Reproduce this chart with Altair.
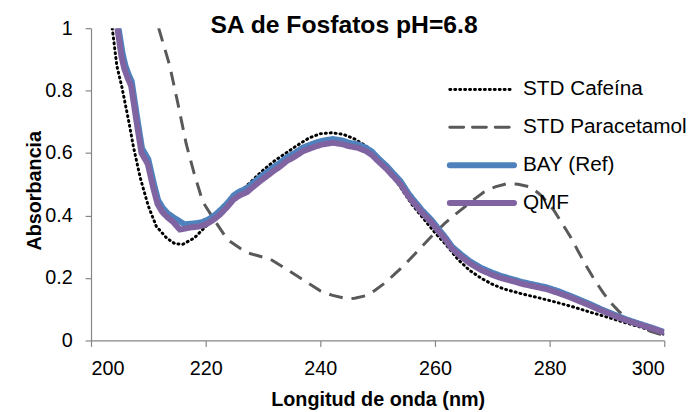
import altair as alt
import pandas as pd

TITLE = "SA de Fosfatos pH=6.8"
SERIES = ["STD Cafeína", "STD Paracetamol", "BAY (Ref)", "QMF"]
COLORS = ["#000000", "#595959", "#4F81BD", "#8064A2"]
DASHES = [[1, 4], [14, 9], [1, 0], [1, 0]]
WIDTHS = [3, 3, 6, 6]

caf_nm = [203.7, 204.5, 205.4, 206.6, 207.4, 208.6, 210, 211.4, 213.2, 214.6, 216, 218, 220,
          222, 224, 226, 228, 230, 232, 234, 236, 238, 240, 242, 244, 246, 248, 250, 252, 254,
          256, 258, 260, 262, 264, 266, 268, 270, 272, 275, 278, 281, 284, 287, 290, 293, 296,
          298, 300]
caf_abs = [1.0, 0.88, 0.81, 0.70, 0.62, 0.52, 0.43, 0.365, 0.328, 0.31, 0.308, 0.328, 0.365,
           0.40, 0.44, 0.475, 0.51, 0.545, 0.575, 0.60, 0.625, 0.648, 0.662, 0.665, 0.66, 0.645,
           0.622, 0.59, 0.545, 0.49, 0.435, 0.39, 0.345, 0.305, 0.26, 0.225, 0.2, 0.18, 0.165,
           0.15, 0.137, 0.123, 0.108, 0.091, 0.075, 0.058, 0.042, 0.03, 0.02]

par_nm = [211.8, 213.7, 215.2, 216.6, 218, 219.5, 221.5, 223.8, 226, 227.2, 229, 231.3, 233.5,
          235.9, 238, 240, 242, 244.5, 246, 247.9, 249.5, 251.4, 253, 254.8, 256.5, 258.3, 260,
          261.7, 263.5, 265.2, 267, 268.6, 270.5, 272.6, 274.5, 276.7, 278.5, 280.7, 282, 283.6,
          285, 286.4, 287.8, 289.3, 290.7, 292.2, 294, 295.6, 297.5, 299.7, 300]
par_abs = [1.0, 0.882, 0.755, 0.63, 0.534, 0.444, 0.386, 0.323, 0.295, 0.281, 0.272, 0.26,
           0.235, 0.207, 0.182, 0.159, 0.145, 0.134, 0.135, 0.143, 0.16, 0.186, 0.213, 0.244,
           0.277, 0.312, 0.345, 0.375, 0.403, 0.428, 0.454, 0.476, 0.492, 0.502, 0.5, 0.491,
           0.465, 0.418, 0.38, 0.333, 0.285, 0.238, 0.195, 0.154, 0.12, 0.091, 0.066, 0.048,
           0.03, 0.017, 0.015]

bay_nm = [204.8, 205.5, 206, 206.6, 207.1, 208, 208.9, 210, 211, 211.7, 212.5, 213.4, 214.3,
          215.2, 216.3, 217.5, 218.6, 219.5, 220.3, 221.5, 222.6, 223.8, 224.9, 226, 227.2,
          228.3, 229.5, 230.6, 231.8, 233, 234.1, 235.5, 237, 238, 239.3, 240.5, 242.2, 243.9,
          245, 246.5, 247.9, 249, 250.2, 251.5, 253.1, 254, 255.4, 256.5, 257.7, 259.4, 260.5,
          261.7, 263, 264.6, 266, 268, 270, 271.5, 273.5, 275.5, 277.5, 279.5, 281.5, 283.6,
          285.3, 287, 289, 291, 293.3, 295.6, 298, 300]
bay_abs = [1.0, 0.92, 0.88, 0.85, 0.83, 0.72, 0.615, 0.58, 0.50, 0.45, 0.425, 0.407, 0.395,
           0.385, 0.372, 0.374, 0.376, 0.38, 0.386, 0.40, 0.418, 0.44, 0.465, 0.478, 0.487,
           0.505, 0.523, 0.538, 0.555, 0.57, 0.586, 0.60, 0.618, 0.625, 0.634, 0.64, 0.645,
           0.64, 0.633, 0.628, 0.618, 0.605, 0.582, 0.56, 0.528, 0.51, 0.47, 0.445, 0.418,
           0.386, 0.36, 0.333, 0.30, 0.275, 0.255, 0.233, 0.217, 0.207, 0.196, 0.186, 0.178,
           0.17, 0.158, 0.143, 0.13, 0.117, 0.10, 0.085, 0.068, 0.054, 0.04, 0.027]

qmf_nm = [204.6, 205.3, 205.8, 206.4, 207, 207.9, 208.8, 209.9, 210.9, 211.6, 212.4, 213.3,
          214.3, 215.5, 216.3, 217.5, 218.6, 219.5, 220.3, 221.5, 222.6, 223.8, 224.9, 226,
          227.2, 228.3, 229.5, 230.6, 231.8, 233, 234.1, 235.5, 237, 238, 239.3, 240.5, 242.2,
          243.9, 245, 246.5, 247.9, 249, 250.2, 251.5, 253.1, 254, 255.4, 256.5, 257.7, 259.4,
          260.5, 261.7, 263, 264.6, 266, 268, 270, 271.5, 273.5, 275.5, 277.5, 279.5, 281.5,
          283.6, 285.3, 287, 289, 291, 293.3, 295.6, 298, 300]
qmf_abs = [1.0, 0.91, 0.87, 0.84, 0.815, 0.705, 0.60, 0.565, 0.485, 0.437, 0.412, 0.395, 0.38,
           0.355, 0.358, 0.362, 0.364, 0.368, 0.374, 0.388, 0.405, 0.428, 0.452, 0.465, 0.475,
           0.492, 0.51, 0.525, 0.542, 0.557, 0.574, 0.588, 0.606, 0.613, 0.622, 0.628, 0.633,
           0.628, 0.622, 0.617, 0.607, 0.594, 0.572, 0.55, 0.518, 0.5, 0.461, 0.436, 0.41,
           0.378, 0.352, 0.326, 0.293, 0.268, 0.248, 0.226, 0.21, 0.2, 0.19, 0.18, 0.172,
           0.164, 0.152, 0.138, 0.125, 0.112, 0.096, 0.081, 0.065, 0.051, 0.038, 0.025]

X_TICKS = [200, 220, 240, 260, 280, 300]
Y_TICKS = [0, 0.2, 0.4, 0.6, 0.8, 1]

frames = []
for name, xs, ys in [(SERIES[0], caf_nm, caf_abs), (SERIES[1], par_nm, par_abs),
                     (SERIES[2], bay_nm, bay_abs), (SERIES[3], qmf_nm, qmf_abs)]:
    frames.append(pd.DataFrame({"serie": name, "nm": xs, "abs": ys}))
df = pd.concat(frames, ignore_index=True)
legend_df = pd.DataFrame({"serie": SERIES, "idx": list(range(len(SERIES)))})

FONT = "Liberation Sans"
AXIS_GREY = "#868686"

x_enc = alt.X("nm:Q", scale=alt.Scale(domain=[200, 300], nice=False, zero=False),
              axis=alt.Axis(values=X_TICKS, title="Longitud de onda (nm)", grid=False,
                            tickSize=6, labelPadding=12, titleY=66, titleBaseline="alphabetic"))
y_enc = alt.Y("abs:Q", scale=alt.Scale(domain=[0, 1], nice=False),
              axis=alt.Axis(values=Y_TICKS, format="~g", title="Absorbancia", grid=False,
                            tickSize=6, labelPadding=13, titleX=-51, titleY=164,
                            titleBaseline="alphabetic"))
color_enc = alt.Color("serie:N", scale=alt.Scale(domain=SERIES, range=COLORS), legend=None)
dash_enc = alt.StrokeDash("serie:N", scale=alt.Scale(domain=SERIES, range=DASHES), legend=None)
width_enc = alt.StrokeWidth("serie:N",
                            scale=alt.Scale(type="ordinal", domain=SERIES, range=WIDTHS),
                            legend=None)

line_layers = []
for s in SERIES:
    line_layers.append(
        alt.Chart(df).transform_filter(alt.datum.serie == s)
        .mark_line(clip=True, strokeCap="round" if s == SERIES[0] else "butt")
        .encode(x=x_enc, y=y_enc, color=color_enc, strokeDash=dash_enc, strokeWidth=width_enc,
                order="nm:Q")
    )
lines = alt.layer(*line_layers)

leg_y = alt.Y("idx:Q", scale=alt.Scale(domain=[0, 3], range=[62, 177]), axis=None)
legend_rules = alt.Chart(legend_df).mark_rule(strokeCap="round").encode(
    x=alt.value(363), x2=alt.value(428), y=leg_y,
    color=color_enc, strokeDash=dash_enc, strokeWidth=width_enc
)
legend_text = alt.Chart(legend_df).mark_text(
    align="left", baseline="middle", font=FONT, fontSize=21, color="#000000"
).encode(x=alt.value(437), y=leg_y, text="serie:N")
legend_block = alt.layer(legend_rules, legend_text)

title_layer = alt.Chart(pd.DataFrame({"t": [TITLE]})).mark_text(
    font=FONT, fontSize=25, fontWeight="bold", color="#000000", align="center",
    baseline="alphabetic"
).encode(text="t:N", x=alt.value(256), y=alt.value(5))

chart = alt.layer(lines, legend_block, title_layer).resolve_scale(
    y="independent"
).properties(
    width=580, height=316,
    autosize=alt.AutoSizeParams(type="none"),
    padding={"left": 84, "top": 18, "right": 23, "bottom": 70},
).configure_view(stroke=None).configure_axis(
    labelFont=FONT, labelFontSize=20, labelColor="#000000", titleFont=FONT, titleFontSize=20,
    titleFontWeight="bold", titleColor="#000000", domainColor=AXIS_GREY, tickColor=AXIS_GREY,
    domainWidth=1.2, tickWidth=1.2
)

chart.save("out.html", embed_options={"renderer": "svg", "actions": False})
